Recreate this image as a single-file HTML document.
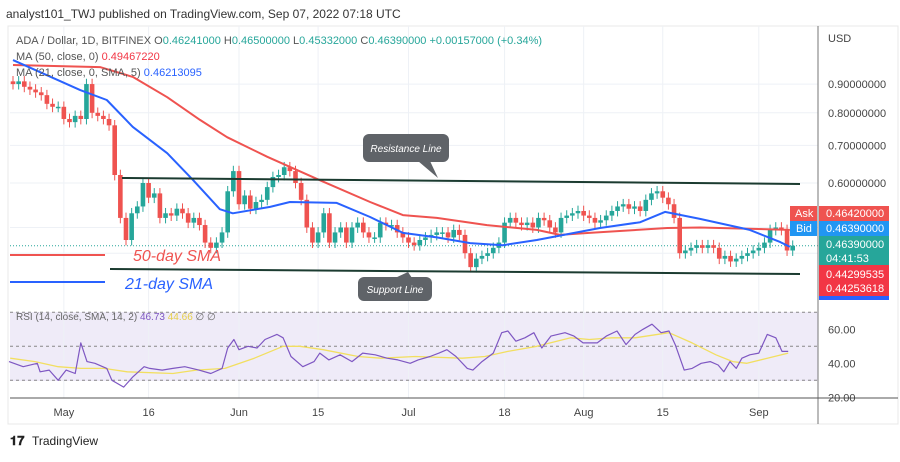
<!DOCTYPE html>
<html><head><meta charset="utf-8"><style>
html,body{margin:0;padding:0;background:#fff;}
body{width:900px;height:457px;overflow:hidden;font-family:"Liberation Sans",sans-serif;}
svg text{font-family:"Liberation Sans",sans-serif;}
</style></head><body>
<svg id="c" width="900" height="457" viewBox="0 0 900 457" xmlns="http://www.w3.org/2000/svg">
<rect x="0" y="0" width="900" height="457" fill="#fff"/>
<text x="6" y="18" font-size="12" fill="#333">analyst101_TWJ published on TradingView.com, Sep 07, 2022 07:18 UTC</text>
<rect x="8" y="26" width="890" height="398" fill="none" stroke="#e8e8e8"/>
<rect x="10" y="312" width="808" height="69" fill="#efebf8"/>
<g id="grid"></g>
<g id="rsiG"></g>
<g id="main"></g>
<line x1="818" y1="26" x2="818" y2="424" stroke="#777"/>
<line x1="10" y1="398" x2="898" y2="398" stroke="#555"/>
<text x="828" y="42" font-size="11" fill="#444">USD</text>
<g font-size="11">
<text x="16" y="44" fill="#555">ADA / Dollar, 1D, BITFINEX  <tspan fill="#555">O</tspan><tspan fill="#26a69a">0.46241000</tspan>  <tspan fill="#555">H</tspan><tspan fill="#26a69a">0.46500000</tspan>  <tspan fill="#555">L</tspan><tspan fill="#26a69a">0.45332000</tspan>  <tspan fill="#555">C</tspan><tspan fill="#26a69a">0.46390000</tspan>  <tspan fill="#26a69a">+0.00157000 (+0.34%)</tspan></text>
<text x="16" y="60" fill="#555">MA (50, close, 0)  <tspan fill="#f23645">0.49467220</tspan></text>
<text x="16" y="76" fill="#555">MA (21, close, 0, SMA, 5)  <tspan fill="#2962ff">0.46213095</tspan></text>
<text x="16" y="320" fill="#666" font-size="10">RSI (14, close, SMA, 14, 2)  <tspan fill="#7e57c2">46.73</tspan>  <tspan fill="#e6cf4a">44.66</tspan>  ∅  ∅</text>
</g>
<line x1="110" y1="269" x2="800" y2="274" stroke="#1b3b30" stroke-width="2"/>
<line x1="122" y1="178" x2="800" y2="184" stroke="#1b3b30" stroke-width="2"/>
<g>
<path d="M418,161 L438,178 L430,161 Z" fill="#5f6368"/>
<rect x="363" y="134" width="86" height="28" rx="6" fill="#5f6368"/>
<text x="406" y="152" font-size="10" font-style="italic" fill="#fff" text-anchor="middle">Resistance Line</text>
</g>
<g>
<path d="M395,278 L408,272 L412,278 Z" fill="#5f6368"/>
<rect x="358" y="277" width="74" height="24" rx="6" fill="#5f6368"/>
<text x="395" y="293" font-size="10" font-style="italic" fill="#fff" text-anchor="middle">Support Line</text>
</g>
<line x1="10" y1="255" x2="105" y2="255" stroke="#ef5350" stroke-width="2"/>
<text x="133" y="261" font-size="16" font-style="italic" fill="#ef5350">50-day SMA</text>
<line x1="10" y1="282" x2="105" y2="282" stroke="#2962ff" stroke-width="2"/>
<text x="125" y="289" font-size="16" font-style="italic" fill="#2962ff">21-day SMA</text>
<g font-size="11" fill="#fff">
<rect x="790" y="206" width="27" height="15" fill="#ef5350"/>
<text x="795" y="217" fill="#fff">Ask</text>
<rect x="819" y="206" width="70" height="15" fill="#ef5350"/>
<text x="826" y="217" fill="#fff">0.46420000</text>
<rect x="790" y="221" width="27" height="15" fill="#2196f3"/>
<text x="796" y="232" fill="#fff">Bid</text>
<rect x="819" y="221" width="70" height="15" fill="#2196f3"/>
<text x="826" y="232" fill="#fff">0.46390000</text>
<rect x="819" y="236" width="70" height="29" fill="#26a69a"/>
<text x="826" y="248" fill="#fff">0.46390000</text>
<text x="826" y="262" fill="#fff">04:41:53</text>
<rect x="819" y="265" width="70" height="31" fill="#f23645"/>
<text x="826" y="278" fill="#fff">0.44299535</text>
<text x="826" y="292" fill="#fff">0.44253618</text>
<rect x="819" y="296" width="70" height="4" fill="#2962ff"/>
</g>
<g>
<text x="10" y="445" font-size="13" font-weight="bold" fill="#222">𝟏𝟕</text>
<text x="32" y="445" font-size="12" fill="#222">TradingView</text>
</g>
</svg>
<script>
const priceTicks=[0.9,0.8,0.7,0.6];
const rsiTicks=[60,40,20];
const timeLabels=["May","16","Jun","15","Jul","18","Aug","15","Sep"];
const timeLabelDays=[9,24,40,54,70,87,101,115,132];
const closes=[0.90,0.91,0.89,0.88,0.87,0.86,0.83,0.82,0.82,0.78,0.77,0.79,0.78,0.90,0.80,0.79,0.78,0.76,0.62,0.52,
0.475,0.53,0.545,0.60,0.565,0.575,0.52,0.53,0.525,0.54,0.53,0.51,0.52,0.505,0.47,0.46,0.47,0.49,0.58,0.63,
0.55,0.57,0.54,0.555,0.56,0.59,0.615,0.62,0.64,0.63,0.60,0.56,0.50,0.47,0.49,0.53,0.47,0.49,0.50,0.47,
0.50,0.51,0.49,0.48,0.48,0.51,0.505,0.505,0.49,0.48,0.47,0.465,0.475,0.48,0.485,0.49,0.49,0.48,0.495,0.485,
0.45,0.425,0.44,0.445,0.45,0.46,0.47,0.51,0.52,0.51,0.505,0.51,0.50,0.52,0.515,0.50,0.49,0.52,0.525,0.53,
0.535,0.525,0.52,0.51,0.515,0.525,0.535,0.545,0.55,0.54,0.545,0.535,0.56,0.575,0.58,0.565,0.55,0.52,0.45,0.455,
0.46,0.465,0.46,0.465,0.46,0.44,0.445,0.435,0.44,0.445,0.45,0.455,0.46,0.47,0.495,0.50,0.495,0.455,0.464];
const firstOpen=0.91;
const ma50Days=[0,15.4,21.2,27.3,33.1,37.9,45,54.3,63.2,69,75,83.9,92.7,96.8,102,115.8,121.6,137.5];
const ma50Vals=[0.973,0.965,0.927,0.853,0.777,0.724,0.668,0.607,0.555,0.526,0.520,0.505,0.495,0.485,0.489,0.499,0.500,0.495];
const ma21Days=[0,11.9,16.6,21.2,27.3,31.9,36.6,38.9,45.5,49,57.3,63.2,69,75,80.9,86.7,92.7,103.9,111,115.4,121.6,130.4,135.8,137.5];
const ma21Vals=[0.993,0.878,0.843,0.755,0.678,0.607,0.539,0.530,0.544,0.555,0.553,0.522,0.489,0.480,0.469,0.465,0.475,0.499,0.511,0.533,0.518,0.495,0.471,0.462];
const rsiDays=[-0.7,1.8,4.3,4.8,6.4,8,9.4,11,12,13.1,14.5,16.6,17.5,19.6,21.2,23.2,24.2,26.4,28.3,30.4,32.9,35,37,38,39.1,40,41.6,43.2,44.6,46.7,47.8,49.2,51.3,53.3,54.3,55.9,57.9,60,61.9,64.1,66.2,68.1,70.3,71.7,73.8,75.4,76.8,78.4,80.4,81.4,83,85,86.5,87.6,89,90.6,92.2,93.6,95.2,97.7,99.3,100.9,103.4,105,106.9,108.5,110.1,111.5,113.1,114.7,116.1,117.2,118.8,120.2,121.8,123.4,124.8,125.8,126.9,128,129,130.4,132,133.5,135,136.1,137.2];
const rsiVals=[41,38,40,35,36,30,36,34,52,41,40,37,30,26,32,38,37,36,37,38,36,34,37,49,54,48,50,49,54,57,55,44,38,41,46,42,45,41,46,45,43,42,40,42,44,46,48,44,37,36,41,46,58,59,53,55,58,49,56,58,56,52,52,56,59,51,57,60,63,58,59,51,36,37,40,41,39,35,41,37,43,45,46,57,55,47,47];
const rsiMaDays=[-0.5,3.9,8,12,16.1,20.2,28.3,32.4,37.5,42.7,47.8,50.8,54.9,61.1,65.1,71.2,79.5,83.5,87.6,92.7,98.7,102,106,110.1,116.1,120.2,124.4,127.4,129.9,133.5,137.2];
const rsiMaVals=[43,41,38,37,37,35,34,36,37,43,50,50,48,44,43,44,43,44,47,50,55,54,55,55,58,52,45,41,40,43,46];
const NS="http://www.w3.org/2000/svg";
function xDay(i){return 13+5.65*i;}
function yP(p){return 183-244*Math.log(p/0.6);}
function yR(v){return 363.3-(v-40)*1.7;}
function mk(tag,attrs,parent){const e=document.createElementNS(NS,tag);for(const k in attrs)e.setAttribute(k,attrs[k]);parent.appendChild(e);return e;}
const grid=document.getElementById('grid'),main=document.getElementById('main'),rg=document.getElementById('rsiG'),svg=document.getElementById('c');
priceTicks.forEach(p=>{
 const l=mk('line',{x1:10,x2:818,y1:yP(p),y2:yP(p),stroke:'#eef1f6'},grid);
 
 
 const t=mk('text',{x:828,y:yP(p)+4,'font-size':11,fill:'#444'},svg);
 t.textContent=p.toFixed(8);
 
 
});
[0.5,0.45].forEach(p=>{const l=mk('line',{x1:10,x2:818,y1:yP(p),y2:yP(p),stroke:'#eef1f6'},grid);
 
 });
timeLabels.forEach((s,k)=>{
 const x=xDay(timeLabelDays[k]);
 const l=mk('line',{x1:x,x2:x,y1:26,y2:398,stroke:'#eef1f6'},grid);
 
 
 const t=mk('text',{x:x,y:416,'font-size':11,fill:'#444','text-anchor':'middle'},svg);
 t.textContent=s;
 
 
});
rsiTicks.forEach(v=>{
 const t=mk('text',{x:828,y:yR(v)+4,'font-size':11,fill:'#444'},svg);
 t.textContent=v.toFixed(2);
 
 
});
[70,50,30].forEach(v=>{const l=mk('line',{x1:10,x2:818,y1:yR(v),y2:yR(v),stroke:'#888','stroke-dasharray':'3,3'},rg);
 
 });
const lp=mk('line',{x1:10,x2:818,y1:yP(closes[closes.length-1]),y2:yP(closes[closes.length-1]),stroke:'#26a69a','stroke-dasharray':'1,2'},grid);


closes.forEach((c,i)=>{
 const o=i===0?firstOpen:closes[i-1];
 const up=c>=o,col=up?'#26a69a':'#ef5350';
 const hi=Math.max(o,c)*1.022,lo=Math.min(o,c)*0.978;
 const x=xDay(i);
 const g=mk('g',{},main);
 
 
 mk('line',{x1:x,x2:x,y1:yP(hi),y2:yP(lo),stroke:col,'stroke-width':1},g);
 const yt=yP(Math.max(o,c)),yb=yP(Math.min(o,c));
 mk('rect',{x:x-2.3,y:yt,width:4.6,height:Math.max(1.5,yb-yt),fill:col},g);
});
function line(days,vals,yf,col,w,name,parent){
 const d=days.map((dd,k)=>(k?'L':'M')+xDay(dd).toFixed(1)+','+yf(vals[k]).toFixed(1)).join(' ');
 const p=mk('path',{d:d,fill:'none',stroke:col,'stroke-width':w,'stroke-linejoin':'round'},parent);
 
 
}
line(ma50Days,ma50Vals,yP,'#ef5350',2,'ma50-line',main);
line(ma21Days,ma21Vals,yP,'#2962ff',2,'ma21-line',main);
line(rsiMaDays,rsiMaVals,yR,'#f2df60',1.3,'rsi-sma-line',rg);
line(rsiDays,rsiVals,yR,'#7e57c2',1.2,'rsi-line',rg);
</script>
</body></html>
